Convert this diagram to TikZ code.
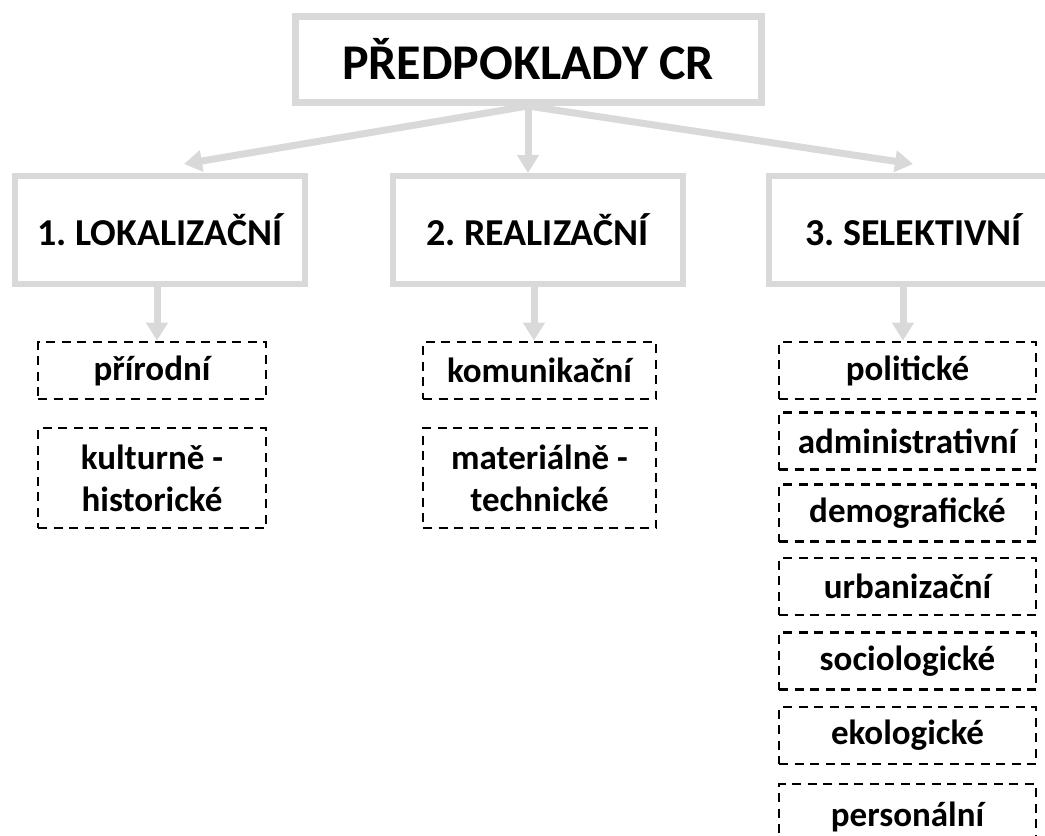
\documentclass[tikz,border=0pt]{standalone}
\usepackage{fontspec}
\setmainfont{Carlito}
\usetikzlibrary{arrows.meta}
\definecolor{lg}{HTML}{D9D9D9}
\frenchspacing
\begin{document}
\begin{tikzpicture}[x=1pt,y=-1pt,
  topbox/.style={draw=lg, line width=7pt, fill=white, inner sep=0pt,
    font=\bfseries\fontsize{50}{56}\selectfont, minimum width=466pt, minimum height=86pt},
  bigbox/.style={draw=lg, line width=6pt, fill=white, inner sep=0pt,
    font=\bfseries\fontsize{38}{44}\selectfont, minimum width=290pt, minimum height=108pt},
  dbox/.style={draw=black, line width=2.8pt, dash pattern=on 9pt off 6.5pt, inner sep=0pt,
    align=center, font=\bfseries\fontsize{35}{42}\selectfont, minimum height=57pt},
  arr/.style={draw=lg, line width=7pt, -{Triangle[width=21pt,length=18pt]}}
]
\useasboundingbox (0,0) rectangle (1045,836);
\clip (0,0) rectangle (1045,836);

\node[topbox] (top) at (528,59.5) {PŘEDPOKLADY CR};

\node[bigbox] (b1) at (160,230) {1. LOKALIZAČNÍ};
\node[bigbox] (b2) at (537.5,230) {2. REALIZAČNÍ};
\node[bigbox] (b3) at (913.5,230) {3. SELEKTIVNÍ};

\coordinate (t1) at (184,164);
\coordinate (t2) at (528,173);
\coordinate (t3) at (913,164);
\draw[arr] (top.south) -- (t1);
\draw[arr] (top.south) -- (t2);
\draw[arr] (top.south) -- (t3);

% column 1
\node[dbox, minimum width=228pt] (c1a) at (152,370.5) {přírodní};
\node[dbox, minimum width=228pt, minimum height=100pt] (c1b) at (152,478) {kulturně -\\historické};
% column 2
\node[dbox, minimum width=233pt] (c2a) at (539.5,370.5) {komunikační};
\node[dbox, minimum width=233pt, minimum height=100pt] (c2b) at (539.5,478) {materiálně -\\technické};
% column 3
\node[dbox, minimum width=257pt] (c3a) at (907.5,370.5) {politické};
\node[dbox, minimum width=257pt] (c3b) at (907.5,441) {administrativní};
\node[dbox, minimum width=257pt] (c3c) at (907.5,513) {demografické};
\node[dbox, minimum width=257pt] (c3d) at (907.5,586.5) {urbanizační};
\node[dbox, minimum width=257pt] (c3e) at (907.5,661) {sociologické};
\node[dbox, minimum width=257pt] (c3f) at (907.5,735.5) {ekologické};
\node[dbox, minimum width=257pt, minimum height=66pt] (c3g) at (907.5,817) {personální};

\draw[arr] (b1.south -| 157,0) -- (157,0 |- c1a.north);
\draw[arr] (b2.south -| 534,0) -- (534,0 |- c2a.north);
\draw[arr] (b3.south -| 903,0) -- (903,0 |- c3a.north);
\end{tikzpicture}
\end{document}
